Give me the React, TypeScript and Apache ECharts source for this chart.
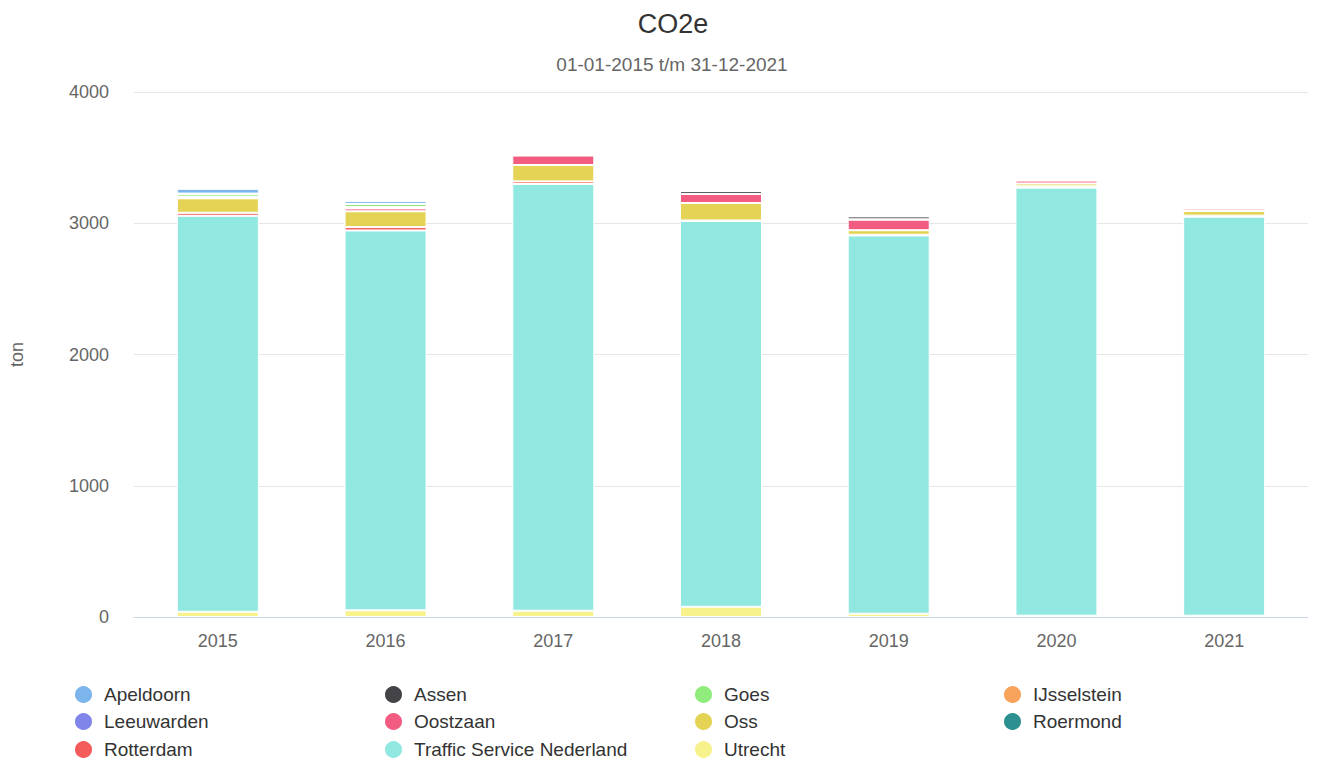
import React, { useEffect, useRef } from "react";
import * as echarts from "echarts";

const years = ["2015", "2016", "2017", "2018", "2019", "2020", "2021"];
const yTicks = [0, 1000, 2000, 3000, 4000];

const apeldoorn = [36, 22, 0, 0, 0, 0, 0];
const assen = [5, 0, 0, 22, 22, 0, 0];
const goes = [20, 24, 0, 0, 0, 0, 0];
const ijsselstein = [6, 6, 0, 0, 0, 0, 0];
const leeuwarden = [0, 4, 0, 0, 3, 5, 5];
const oostzaan = [5, 22, 72, 70, 80, 22, 18];
const oss = [110, 120, 125, 133, 35, 22, 35];
const roermond = [0, 0, 0, 0, 0, 4, 0];
const rotterdam = [23, 26, 20, 4, 5, 6, 8];
const trafficService = [3017, 2894, 3251, 2939, 2882, 3261, 3040];
const utrecht = [40, 51, 48, 78, 25, 10, 10];

const seriesDefs = [
  { name: "Apeldoorn", data: apeldoorn, color: "#7cb5ec" },
  { name: "Assen", data: assen, color: "#434348" },
  { name: "Goes", data: goes, color: "#90ed7d" },
  { name: "IJsselstein", data: ijsselstein, color: "#f7a35c" },
  { name: "Leeuwarden", data: leeuwarden, color: "#8085e9" },
  { name: "Oostzaan", data: oostzaan, color: "#f15c80" },
  { name: "Oss", data: oss, color: "#e4d354" },
  { name: "Roermond", data: roermond, color: "#2b908f" },
  { name: "Rotterdam", data: rotterdam, color: "#f45b5b" },
  { name: "Traffic Service Nederland", data: trafficService, color: "#91e8e1" },
  { name: "Utrecht", data: utrecht, color: "#f7f28b" },
];

const legendColumnLefts = [73, 383, 693, 1002];
const legendRowTops = [684, 711, 739];

const FONT = '"Liberation Sans", Arial, Helvetica, sans-serif';

export default function App() {
  const ref = useRef<HTMLDivElement>(null);
  useEffect(() => {
    if (!ref.current) return;
    const chart = echarts.init(ref.current, undefined, { renderer: "svg" });
    const series = [...seriesDefs].reverse().map((s) => ({
      name: s.name,
      type: "bar",
      stack: "total",
      data: s.data,
      barWidth: 82,
      itemStyle: { color: s.color, borderColor: "#ffffff", borderWidth: 1 },
      emphasis: { disabled: true },
    }));
    const legends = seriesDefs.map((s, i) => ({
      data: [s.name],
      left: legendColumnLefts[i % 4],
      top: legendRowTops[Math.floor(i / 4)],
      icon: "circle",
      itemWidth: 19,
      itemHeight: 19,
      padding: 0,
      textStyle: {
        fontSize: 19,
        lineHeight: 19,
        color: "#333333",
        fontFamily: FONT,
        padding: [0, 0, 0, 6],
      },
    }));
    chart.setOption({
      animation: false,
      textStyle: { fontFamily: FONT },
      title: [
        {
          text: "CO2e",
          left: 668,
          top: 5,
          textAlign: "center",
          textStyle: { fontSize: 27, fontWeight: "normal", color: "#333333", fontFamily: FONT },
        },
        {
          text: "01-01-2015 t/m 31-12-2021",
          left: 667,
          top: 50,
          textAlign: "center",
          textStyle: { fontSize: 19, fontWeight: "normal", color: "#666666", fontFamily: FONT },
        },
      ],
      legend: legends,
      grid: { left: 132, right: 15, top: 92, bottom: 144, containLabel: false },
      xAxis: {
        type: "category",
        data: years,
        axisLine: { lineStyle: { color: "#ccd6eb", width: 1 } },
        axisTick: { show: false },
        axisLabel: { color: "#666666", fontSize: 18, margin: 15, fontFamily: FONT },
      },
      yAxis: {
        type: "value",
        min: yTicks[0],
        max: yTicks[yTicks.length - 1],
        interval: 1000,
        name: "ton",
        nameLocation: "middle",
        nameRotate: 90,
        nameGap: 108,
        nameTextStyle: { color: "#666666", fontSize: 18, fontFamily: FONT },
        axisLine: { show: false },
        axisTick: { show: false },
        splitLine: { lineStyle: { color: "#e6e6e6", width: 1 } },
        axisLabel: {
          color: "#666666",
          fontSize: 18,
          margin: 25,
          fontFamily: FONT,
          formatter: (v: number) => String(v),
        },
      },
      series,
    });
    return () => chart.dispose();
  }, []);
  return (
    <div
      ref={ref}
      style={{ position: "absolute", left: 0, top: 0, width: 1323, height: 761, background: "#ffffff" }}
    />
  );
}
